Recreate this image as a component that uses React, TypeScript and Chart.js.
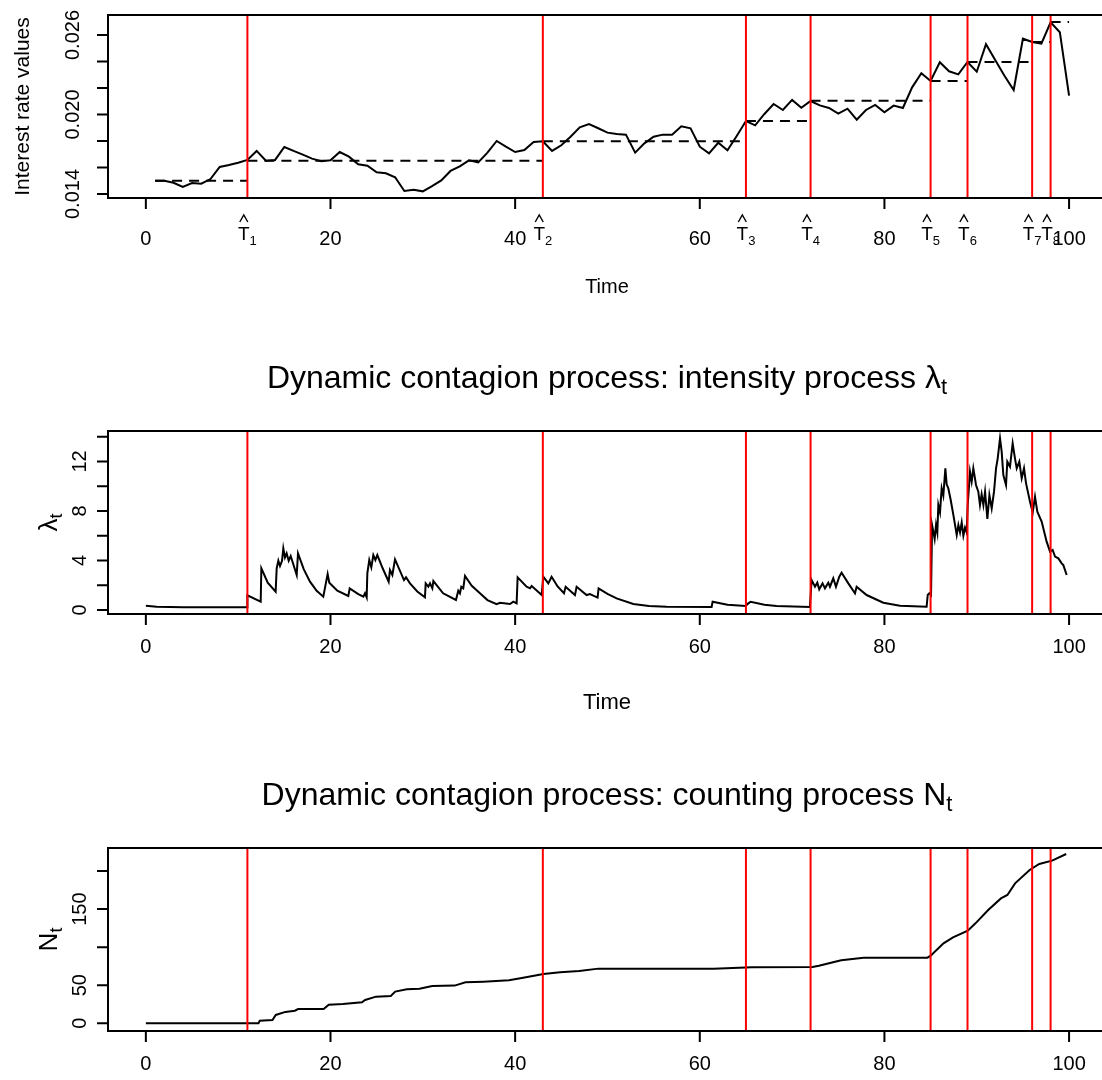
import { useEffect, useRef } from 'react';
import { Chart, registerables } from 'chart.js';

Chart.register(...registerables);

const FONT = '"Liberation Sans", Arial, Helvetica, sans-serif';
const CW = 1110;

// ---------- Panel 1: interest rate ----------
const rateTime = [
  1, 2, 3, 4, 5, 6, 7, 8, 9, 10, 11, 12, 13, 14, 15, 16, 17, 18, 19, 20,
  21, 22, 23, 24, 25, 26, 27, 28, 29, 30, 31, 32, 33, 34, 35, 36, 37, 38, 39, 40,
  41, 42, 43, 44, 45, 46, 47, 48, 49, 50, 51, 52, 53, 54, 55, 56, 57, 58, 59, 60,
  61, 62, 63, 64, 65, 66, 67, 68, 69, 70, 71, 72, 73, 74, 75, 76, 77, 78, 79, 80,
  81, 82, 83, 84, 85, 86, 87, 88, 89, 90, 91, 92, 93, 94, 95, 96, 97, 98, 99, 100,
];
const rateValues = [
  0.0150, 0.0150, 0.01485, 0.01453, 0.01483, 0.01478, 0.01513, 0.01604, 0.01619, 0.01636,
  0.01657, 0.01725, 0.01651, 0.01657, 0.01755, 0.01725, 0.01697, 0.01667, 0.01647, 0.01655,
  0.01717, 0.01682, 0.01624, 0.01614, 0.01564, 0.01556, 0.01526, 0.01423, 0.01432, 0.01420,
  0.01460, 0.01503, 0.01574, 0.01609, 0.01654, 0.01639, 0.01712, 0.01800, 0.01757, 0.01717,
  0.01732, 0.01792, 0.01798, 0.01725, 0.01768, 0.01832, 0.01903, 0.01928, 0.01896, 0.01863,
  0.01853, 0.01848, 0.01712, 0.01782, 0.01832, 0.01848, 0.01848, 0.01911, 0.01896, 0.01757,
  0.01707, 0.01787, 0.01730, 0.01838, 0.01951, 0.01918, 0.02004, 0.02079, 0.02034, 0.02110,
  0.02051, 0.02102, 0.02069, 0.02049, 0.02006, 0.02044, 0.01961, 0.02034, 0.02072, 0.02017,
  0.02067, 0.02049, 0.02205, 0.02311, 0.02253, 0.02394, 0.02326, 0.02303, 0.02396, 0.02323,
  0.02530, 0.02411, 0.02293, 0.02185, 0.02572, 0.02547, 0.02534, 0.02696, 0.02621, 0.02142,
];
const breakTimes = [11, 43, 65, 72, 85, 89, 96, 98];
const breakLabels = ['1', '2', '3', '4', '5', '6', '7', '8'];
const segStart = [1, 11, 43, 65, 72, 85, 89, 96, 98];
const segEnd = [11, 43, 65, 72, 85, 89, 96, 98, 100];
const segLevel = [0.0150, 0.01651, 0.01798, 0.01951, 0.02104, 0.02253, 0.02396, 0.02547, 0.02698];
const xTickValues = [0, 20, 40, 60, 80, 100];
const rateYTicks = [0.014, 0.016, 0.018, 0.020, 0.022, 0.024, 0.026];
const rateYLabels = ['0.014', '', '', '0.020', '', '', '0.026'];

// ---------- Panel 2: intensity ----------
const lambdaTime = [
  0, 1.17, 4.06, 10.96, 11.0, 12.44, 12.51, 13.2, 14.06, 14.17,
  14.35, 14.53, 14.75, 14.89, 15.07, 15.25, 15.47, 15.69, 16.34, 16.48,
  17.1, 17.78, 18.5, 19.22, 19.69, 19.87, 20.74, 21.93, 22.08, 23.01,
  23.56, 23.74, 23.92, 23.99, 24.2, 24.42, 24.64, 24.86, 25.07, 25.65,
  26.3, 26.44, 26.7, 26.99, 27.96, 28.18, 28.61, 29.4, 30.23, 30.31,
  30.6, 30.78, 31.03, 31.14, 32.2, 33.59, 33.84, 34.02, 34.17, 34.38,
  34.57, 35.3, 36.19, 37.0, 37.99, 38.36, 39.44, 39.8, 40.16, 40.27,
  41.24, 41.61, 41.79, 42.87, 43.05, 43.59, 43.95, 44.6, 45.29, 45.47,
  46.48, 46.66, 47.74, 48.1, 48.93, 49.04, 50.0, 50.99, 52.8, 54.5,
  56.41, 61.28, 61.39, 63.0, 64.97, 65.26, 65.51, 67.0, 68.32, 71.93,
  72.11, 72.48, 72.73, 72.94, 73.3, 73.56, 73.92, 74.1, 74.46, 74.75,
  75.11, 75.36, 76.09, 76.81, 76.99, 78.07, 79.88, 81.68, 84.57, 84.69,
  84.87, 85.05, 85.16, 85.3, 85.44, 85.59, 85.73, 85.84, 86.02, 86.2,
  86.38, 86.6, 86.74, 86.92, 87.18, 87.47, 87.83, 88.01, 88.19, 88.37,
  88.55, 88.73, 88.91, 89.02, 89.27, 89.45, 89.63, 89.92, 90.17, 90.35,
  90.53, 90.72, 90.9, 91.15, 91.37, 91.62, 91.87, 92.09, 92.27, 92.52,
  92.7, 92.88, 93.17, 93.31, 93.6, 93.89, 94.14, 94.33, 94.61, 94.87,
  95.12, 95.34, 95.77, 96.06, 96.31, 96.56, 97.03, 97.57, 97.94, 98.22,
  98.48, 98.84, 99.2, 99.38, 99.74,
];
const lambdaValues = [
  0.35, 0.27, 0.22, 0.22, 1.18, 0.67, 3.37, 2.2, 1.48, 3.37,
  3.98, 3.55, 3.98, 4.98, 4.25, 4.58, 3.98, 4.36, 2.83, 4.58,
  3.3, 2.29, 1.55, 1.08, 2.91, 2.21, 1.56, 1.13, 1.75, 1.29,
  1.08, 1.35, 1.02, 2.96, 4.04, 3.45, 4.44, 4.04, 4.44, 3.37,
  2.29, 3.23, 2.83, 4.09, 2.42, 2.64, 2.15, 1.5, 1.02, 2.15,
  1.88, 2.15, 1.75, 2.34, 1.35, 0.81, 1.56, 1.35, 1.88, 1.75,
  2.75, 1.95, 1.35, 0.8, 0.48, 0.59, 0.48, 0.67, 0.54, 2.64,
  1.88, 1.75, 1.94, 1.21, 2.69, 2.15, 2.69, 1.9, 1.35, 1.88,
  1.21, 1.88, 1.21, 1.29, 1.0, 1.75, 1.3, 0.94, 0.48, 0.33,
  0.27, 0.24, 0.67, 0.42, 0.32, 0.54, 0.67, 0.42, 0.32, 0.24,
  2.42, 1.88, 2.21, 1.67, 2.15, 1.75, 2.21, 1.88, 2.56, 1.88,
  2.69, 3.02, 2.15, 1.35, 1.88, 1.21, 0.59, 0.35, 0.27, 1.21,
  1.35, 1.2, 6.87, 6.33, 5.74, 6.87, 6.27, 8.48, 7.89, 9.83,
  9.24, 11.44, 10.15, 9.83, 8.89, 7.67, 6.06, 6.87, 6.27, 7.08,
  6.0, 6.65, 6.27, 8.48, 11.17, 10.37, 11.44, 10.1, 9.56, 8.48,
  9.34, 8.48, 9.56, 7.35, 9.29, 8.21, 9.56, 11.44, 12.25, 13.87,
  12.79, 10.9, 10.1, 11.98, 11.58, 13.46, 12.25, 11.44, 11.98, 10.64,
  11.44, 10.23, 8.75, 7.89, 9.15, 7.94, 7.14, 5.52, 4.71, 4.85,
  4.31, 4.17, 3.77, 3.63, 2.83,
];
const lambdaYTicks = [0, 2, 4, 6, 8, 10, 12, 14];
const lambdaYLabels = ['0', '', '4', '', '8', '', '12', ''];

// ---------- Panel 3: counting process ----------
const countTime = [
  0, 12.2, 12.34, 13.72, 14.07, 15.11, 16.14, 16.49, 19.26, 19.81,
  21.34, 23.41, 23.75, 24.93, 26.53, 27.01, 28.26, 29.64, 31.02, 33.45,
  34.62, 36.56, 39.33, 40.72, 43.07, 44.87, 46.94, 49.02, 61.48, 65.63,
  72.21, 72.9, 75.32, 77.74, 84.66, 85.01, 86.4, 87.43, 89.03, 89.86,
  91.24, 92.62, 93.32, 94.15, 95.73, 96.77, 98.16, 99.69,
];
const countValues = [
  0, 0, 3.5, 4.4, 11, 15, 16.6, 18.8, 18.8, 24.5,
  25.4, 27.6, 30.6, 35, 35.9, 41.6, 44.6, 45.5, 49, 49.5,
  53.8, 54.7, 56.5, 59.5, 64.8, 67, 68.7, 71.8, 71.8, 73.5,
  74, 75.7, 82.7, 86.2, 86.2, 88.8, 105, 112.9, 121.7, 131.3,
  148.8, 164, 168.5, 183.8, 201.3, 209.2, 213.6, 222.3,
];
const countYTicks = [0, 50, 100, 150, 200];
const countYLabels = ['0', '50', '', '150', ''];

type PanelCfg = {
  top: number;
  height: number;
  boxTop: number;
  boxBottom: number;
  yMin: number;
  yMax: number;
  yTicks: number[];
  yLabels: string[];
  yLabelBaseX: number;
  yTitle: string;
  yTitleSub: string;
  yTitleFs: number;
  yTitleBaseX: number;
  xLabelBase: number;
  xTitle: string;
  xTitleFs: number;
  xTitleBase: number;
  title: string;
  titleSub: string;
  titleBase: number;
  hats: boolean;
  series: { x: number[]; y: number[] };
  segments: boolean;
};

const panels: PanelCfg[] = [
  {
    top: 0, height: 300, boxTop: 15, boxBottom: 198,
    yMin: 0.013698, yMax: 0.027509,
    yTicks: rateYTicks, yLabels: rateYLabels, yLabelBaseX: 79,
    yTitle: 'Interest rate values', yTitleSub: '', yTitleFs: 21, yTitleBaseX: 29,
    xLabelBase: 245, xTitle: 'Time', xTitleFs: 20, xTitleBase: 293,
    title: '', titleSub: '', titleBase: 0,
    hats: true, series: { x: rateTime, y: rateValues }, segments: true,
  },
  {
    top: 300, height: 420, boxTop: 431, boxBottom: 614,
    yMin: -0.323, yMax: 14.46,
    yTicks: lambdaYTicks, yLabels: lambdaYLabels, yLabelBaseX: 86,
    yTitle: '\u03bb', yTitleSub: 't', yTitleFs: 26, yTitleBaseX: 57,
    xLabelBase: 653, xTitle: 'Time', xTitleFs: 22, xTitleBase: 709,
    title: 'Dynamic contagion process: intensity process \u03bb', titleSub: 't', titleBase: 388,
    hats: false, series: { x: lambdaTime, y: lambdaValues }, segments: false,
  },
  {
    top: 720, height: 360, boxTop: 848, boxBottom: 1031,
    yMin: -10.1, yMax: 230.2,
    yTicks: countYTicks, yLabels: countYLabels, yLabelBaseX: 86,
    yTitle: 'N', yTitleSub: 't', yTitleFs: 26, yTitleBaseX: 57,
    xLabelBase: 1070, xTitle: '', xTitleFs: 22, xTitleBase: 0,
    title: 'Dynamic contagion process: counting process N', titleSub: 't', titleBase: 805,
    hats: false, series: { x: countTime, y: countValues }, segments: false,
  },
];

function drawSubText(
  ctx: CanvasRenderingContext2D, main: string, sub: string,
  fs: number, cx: number, baseline: number,
) {
  const sfs = Math.round(fs * 0.7);
  ctx.font = `${fs}px ${FONT}`;
  const wm = ctx.measureText(main).width;
  ctx.font = `${sfs}px ${FONT}`;
  const ws = sub ? ctx.measureText(sub).width : 0;
  const start = cx - (wm + ws) / 2;
  ctx.textAlign = 'left';
  ctx.textBaseline = 'alphabetic';
  ctx.font = `${fs}px ${FONT}`;
  ctx.fillText(main, start, baseline);
  if (sub) {
    ctx.font = `${sfs}px ${FONT}`;
    ctx.fillText(sub, start + wm, baseline + fs * 0.2);
  }
}

function makeAxisPlugin(cfg: PanelCfg) {
  return {
    id: 'rAxes',
    afterDatasetsDraw(chart: any) {
      const { ctx, chartArea: a, scales } = chart;
      const xs = scales.x;
      const ys = scales.y;
      const off = cfg.top;
      ctx.save();
      ctx.strokeStyle = '#000';
      ctx.fillStyle = '#000';
      ctx.lineWidth = 2;
      ctx.strokeRect(a.left, a.top, a.right - a.left, a.bottom - a.top);

      // x ticks
      ctx.beginPath();
      for (const v of xTickValues) {
        const px = xs.getPixelForValue(v);
        ctx.moveTo(px, a.bottom);
        ctx.lineTo(px, a.bottom + 11);
      }
      ctx.stroke();
      ctx.font = `20px ${FONT}`;
      ctx.textAlign = 'center';
      ctx.textBaseline = 'alphabetic';
      for (const v of xTickValues) {
        ctx.fillText(String(v), xs.getPixelForValue(v), cfg.xLabelBase - off);
      }

      // y ticks
      ctx.beginPath();
      for (const v of cfg.yTicks) {
        const py = ys.getPixelForValue(v);
        ctx.moveTo(a.left, py);
        ctx.lineTo(a.left - 11, py);
      }
      ctx.stroke();
      cfg.yTicks.forEach((v, i) => {
        const lab = cfg.yLabels[i];
        if (!lab) return;
        const py = ys.getPixelForValue(v);
        ctx.save();
        ctx.translate(cfg.yLabelBaseX, py);
        ctx.rotate(-Math.PI / 2);
        ctx.font = `20px ${FONT}`;
        ctx.textAlign = 'center';
        ctx.fillText(lab, 0, 0);
        ctx.restore();
      });

      // y title
      ctx.save();
      ctx.translate(cfg.yTitleBaseX, (a.top + a.bottom) / 2);
      ctx.rotate(-Math.PI / 2);
      drawSubText(ctx, cfg.yTitle, cfg.yTitleSub, cfg.yTitleFs, 0, 0);
      ctx.restore();

      const cx = (a.left + a.right) / 2;
      // x title
      if (cfg.xTitle) {
        drawSubText(ctx, cfg.xTitle, '', cfg.xTitleFs, cx, cfg.xTitleBase - off);
      }
      // main title
      if (cfg.title) {
        drawSubText(ctx, cfg.title, cfg.titleSub, 32, cx, cfg.titleBase - off);
      }

      // hat T labels
      if (cfg.hats) {
        breakTimes.forEach((t, i) => {
          const px = xs.getPixelForValue(t);
          ctx.font = `19px ${FONT}`;
          const wT = ctx.measureText('T').width;
          ctx.font = `13px ${FONT}`;
          const wS = ctx.measureText(breakLabels[i]).width;
          const start = px - (wT + wS) / 2;
          ctx.textAlign = 'left';
          ctx.font = `19px ${FONT}`;
          ctx.fillText('T', start, 240 - off);
          ctx.font = `13px ${FONT}`;
          ctx.fillText(breakLabels[i], start + wT, 245 - off);
          const hc = start + wT / 2;
          ctx.beginPath();
          ctx.lineWidth = 1.4;
          ctx.moveTo(hc - 4, 222 - off);
          ctx.lineTo(hc, 215 - off);
          ctx.lineTo(hc + 4, 222 - off);
          ctx.stroke();
        });
      }
      ctx.restore();
    },
  };
}

function buildDatasets(cfg: PanelCfg) {
  const ds: any[] = [];
  breakTimes.forEach((t) => {
    ds.push({
      data: [{ x: t, y: cfg.yMin }, { x: t, y: cfg.yMax }],
      borderColor: '#ff0000', borderWidth: 2, pointRadius: 0, order: 0,
    });
  });
  if (cfg.segments) {
    segStart.forEach((s, i) => {
      ds.push({
        data: [{ x: s, y: segLevel[i] }, { x: segEnd[i], y: segLevel[i] }],
        borderColor: '#000', borderWidth: 2, borderDash: [10, 7], pointRadius: 0, order: 1,
      });
    });
  }
  ds.push({
    data: cfg.series.x.map((x, i) => ({ x, y: cfg.series.y[i] })),
    borderColor: '#000', borderWidth: 2, pointRadius: 0, order: 2,
  });
  return ds;
}

function Panel({ cfg }: { cfg: PanelCfg }) {
  const ref = useRef<HTMLCanvasElement>(null);
  useEffect(() => {
    const canvas = ref.current;
    if (!canvas) return;
    const chart = new Chart(canvas, {
      type: 'line',
      data: { datasets: buildDatasets(cfg) },
      options: {
        responsive: false,
        maintainAspectRatio: false,
        animation: false,
        devicePixelRatio: 1,
        events: [],
        layout: {
          padding: {
            left: 108,
            right: CW - 1106,
            top: cfg.boxTop - cfg.top,
            bottom: cfg.top + cfg.height - cfg.boxBottom,
          },
        },
        elements: { line: { tension: 0, fill: false }, point: { radius: 0 } },
        plugins: { legend: { display: false }, tooltip: { enabled: false }, title: { display: false } },
        scales: {
          x: { type: 'linear', min: -4.1, max: 104, display: false },
          y: { type: 'linear', min: cfg.yMin, max: cfg.yMax, display: false },
        },
      } as any,
      plugins: [makeAxisPlugin(cfg)],
    });
    return () => chart.destroy();
  }, [cfg]);
  return (
    <canvas
      ref={ref}
      width={CW}
      height={cfg.height}
      style={{ position: 'absolute', left: 0, top: cfg.top, width: CW, height: cfg.height }}
    />
  );
}

export default function App() {
  useEffect(() => {
    document.body.style.margin = '0';
    document.body.style.background = '#fff';
  }, []);
  return (
    <div
      style={{
        position: 'absolute', left: 0, top: 0, width: 1102, height: 1080,
        overflow: 'hidden', background: '#fff',
      }}
    >
      {panels.map((p, i) => (
        <Panel key={i} cfg={p} />
      ))}
    </div>
  );
}
